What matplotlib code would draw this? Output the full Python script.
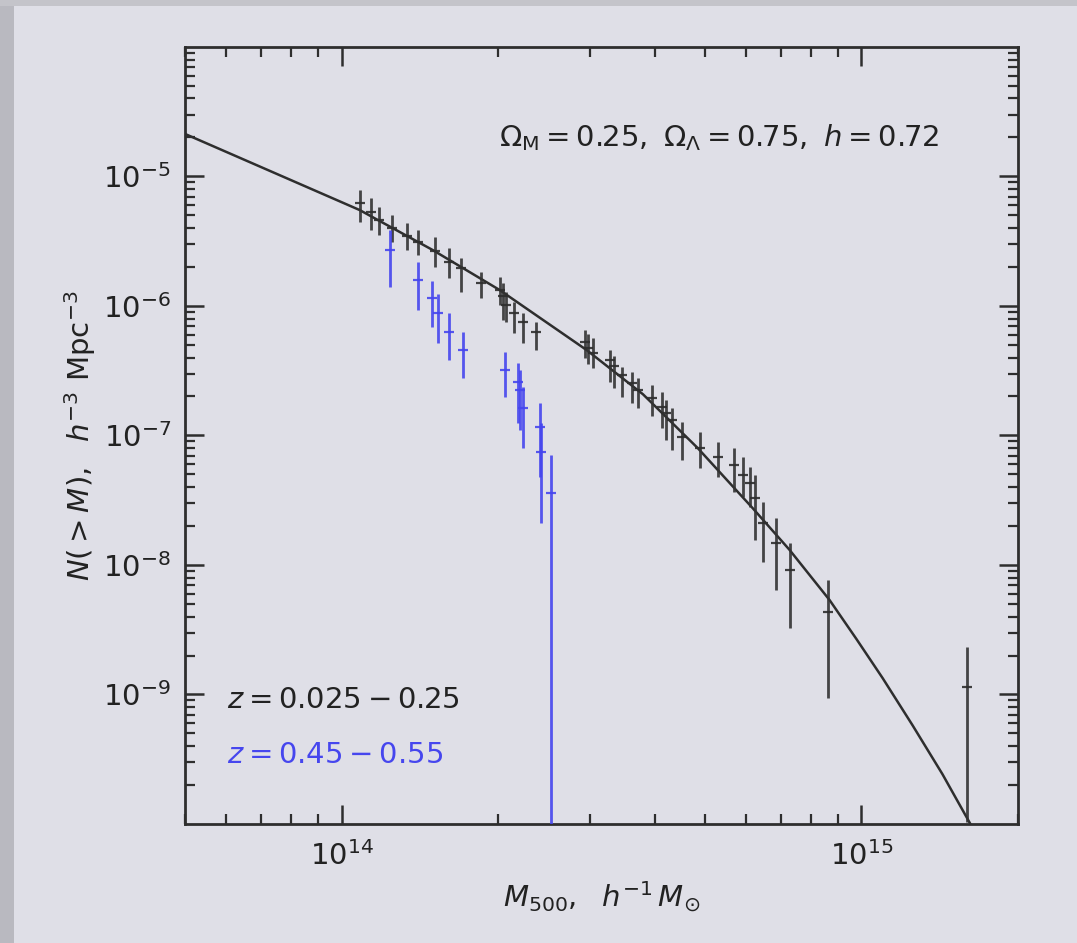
import numpy as np
import matplotlib
matplotlib.use("Agg")
import matplotlib.pyplot as plt
from matplotlib.patches import Rectangle

# model curve N(>M)
curve_m = [5.0e13, 1.083e14, 1.496e14, 2.013e14, 2.96e14, 3.80e14, 4.84e14, 6.17e14,
           7.27e14, 8.68e14, 9.78e14, 1.098e15, 1.253e15, 1.431e15, 1.62e15]
curve_n = [2.13e-5, 5.51e-6, 2.71e-6, 1.33e-6, 4.57e-7, 2.08e-7, 8.01e-8, 2.76e-8,
           1.31e-8, 5.37e-9, 2.68e-9, 1.34e-9, 5.81e-10, 2.43e-10, 1.0e-10]

# low-z sample, z = 0.025 - 0.25 (mass in 1e14)
low_m = [1.083, 1.137, 1.183, 1.253, 1.334, 1.400, 1.516, 1.606, 1.694, 1.858,
         2.013, 2.040, 2.076, 2.142, 2.229, 2.361, 2.933, 2.985, 3.039, 3.277,
         3.336, 3.456, 3.612, 3.709, 3.947, 4.143, 4.217, 4.312, 4.507, 4.881,
         5.309, 5.674, 5.905, 6.117, 6.227, 6.479, 6.863, 7.302, 8.639, 15.99]
low_n = [6.24e-6, 5.32e-6, 4.61e-6, 4.00e-6, 3.47e-6, 3.12e-6, 2.66e-6, 2.19e-6, 1.97e-6, 1.50e-6,
         1.33e-6, 1.19e-6, 1.02e-6, 8.83e-7, 7.52e-7, 6.30e-7, 5.27e-7, 4.74e-7, 4.34e-7, 3.83e-7,
         3.44e-7, 2.93e-7, 2.54e-7, 2.25e-7, 1.95e-7, 1.66e-7, 1.49e-7, 1.32e-7, 9.74e-8, 8.01e-8,
         6.82e-8, 5.92e-8, 4.95e-8, 4.30e-8, 3.29e-8, 2.11e-8, 1.48e-8, 9.15e-9, 4.34e-9, 1.14e-9]
low_hi = [7.87e-6, 6.82e-6, 5.81e-6, 5.04e-6, 4.37e-6, 3.86e-6, 3.41e-6, 2.80e-6, 2.35e-6, 1.83e-6,
          1.67e-6, 1.50e-6, 1.28e-6, 1.07e-6, 8.83e-7, 7.52e-7, 6.53e-7, 6.08e-7, 5.66e-7, 4.57e-7,
          4.11e-7, 3.38e-7, 3.09e-7, 2.78e-7, 2.45e-7, 2.17e-7, 1.88e-7, 1.63e-7, 1.27e-7, 1.06e-7,
          8.91e-8, 8.01e-8, 6.82e-8, 5.71e-8, 4.95e-8, 3.06e-8, 2.31e-8, 1.48e-8, 7.66e-9, 2.33e-9]
low_lo = [4.45e-6, 3.86e-6, 3.53e-6, 3.12e-6, 2.71e-6, 2.48e-6, 2.00e-6, 1.64e-6, 1.28e-6, 1.15e-6,
          1.02e-6, 7.80e-7, 7.52e-7, 6.19e-7, 5.18e-7, 4.57e-7, 3.97e-7, 3.57e-7, 3.32e-7, 2.59e-7,
          2.33e-7, 1.98e-7, 1.78e-7, 1.63e-7, 1.41e-7, 1.14e-7, 9.23e-8, 7.73e-8, 6.47e-8, 5.61e-8,
          4.78e-8, 3.66e-8, 3.35e-8, 2.80e-8, 1.56e-8, 1.05e-8, 6.41e-9, 3.26e-9, 9.40e-10, 1.04e-10]

# high-z sample, z = 0.45 - 0.55
high_m = [1.242, 1.400, 1.496, 1.536, 1.606, 1.709, 2.058, 2.181, 2.209, 2.229, 2.403, 2.424, 2.534]
high_n = [2.71e-6, 1.59e-6, 1.15e-6, 8.83e-7, 6.30e-7, 4.57e-7, 3.21e-7, 2.59e-7, 2.25e-7,
          1.63e-7, 1.16e-7, 7.46e-8, 3.60e-8]
high_hi = [3.86e-6, 2.19e-6, 1.56e-6, 1.24e-6, 8.83e-7, 6.30e-7, 4.41e-7, 3.63e-7, 3.21e-7,
           2.37e-7, 1.78e-7, 1.25e-7, 7.07e-8]
high_lo = [1.40e-6, 9.31e-7, 6.88e-7, 5.18e-7, 3.83e-7, 2.78e-7, 1.98e-7, 1.25e-7, 1.10e-7,
           8.01e-8, 4.78e-8, 2.11e-8, 1e-12]

bg = '#dfdfe7'
ink = '#2e2e2e'
blue = '#4646ee'

plt.rcParams['font.family'] = ['DejaVu Sans']
plt.rcParams['mathtext.fontset'] = 'dejavusans'

fig = plt.figure(figsize=(10.77, 9.43), dpi=100, facecolor=bg)
fig.patches.append(Rectangle((0, 0), 0.013, 1, transform=fig.transFigure,
                             facecolor='#b9b9c0', edgecolor='none', zorder=-1))
fig.patches.append(Rectangle((0, 0.994), 1, 0.006, transform=fig.transFigure,
                             facecolor='#c4c4ca', edgecolor='none', zorder=-1))
ax = fig.add_axes([0.1718, 0.1262, 0.7734, 0.8240])
ax.set_facecolor(bg)

ax.plot(curve_m, curve_n, color=ink, lw=1.8, zorder=3)

lm = np.array(low_m) * 1e14
ln = np.array(low_n)
ax.errorbar(lm, ln, yerr=[ln - np.array(low_lo), np.array(low_hi) - ln],
            fmt='_', color=ink, ecolor='#333333', elinewidth=2.0, markersize=7,
            mew=1.6, capsize=0, alpha=0.9, zorder=4)

hm = np.array(high_m) * 1e14
hn = np.array(high_n)
ax.errorbar(hm, hn, yerr=[hn - np.array(high_lo), np.array(high_hi) - hn],
            fmt='_', color=blue, ecolor=blue, elinewidth=2.0, markersize=7,
            mew=1.6, capsize=0, alpha=0.9, zorder=4)

ax.set_xscale('log')
ax.set_yscale('log')
ax.set_xlim(5e13, 2e15)
ax.set_ylim(1e-10, 1e-4)
ax.set_yticks([1e-9, 1e-8, 1e-7, 1e-6, 1e-5])
ax.set_yticklabels([r'$10^{-9}$', r'$10^{-8}$', r'$10^{-7}$', r'$10^{-6}$', r'$10^{-5}$'])
ax.set_xticks([1e14, 1e15])
ax.set_xticklabels([r'$10^{14}$', r'$10^{15}$'])

for s in ax.spines.values():
    s.set_linewidth(2.0)
    s.set_color(ink)
ax.tick_params(which='both', direction='in', top=True, right=True, color=ink,
               labelsize=21, labelcolor='#222222')
ax.tick_params(which='major', length=14, width=1.8, pad=10)
ax.tick_params(which='minor', length=7, width=1.6)
ax.tick_params(axis='x', which='major', pad=12)

ax.text(0.906, 0.883, r'$\Omega_{\rm M} = 0.25,\ \Omega_\Lambda = 0.75,\ h = 0.72$',
        transform=ax.transAxes, ha='right', va='center', fontsize=21, color='#222222')
ax.text(0.05, 0.16, r'$z = 0.025 - 0.25$', transform=ax.transAxes,
        ha='left', va='center', fontsize=21, color='#222222')
ax.text(0.05, 0.089, r'$z = 0.45 - 0.55$', transform=ax.transAxes,
        ha='left', va='center', fontsize=21, color=blue)

ax.set_xlabel(r'$M_{500},\ \ h^{-1}\,M_{\odot}$', fontsize=21, color='#222222', va='center')
ax.xaxis.set_label_coords(0.5, -0.094)
ax.set_ylabel(r'$N(>M),\ \ h^{-3}\ {\rm Mpc}^{-3}$', fontsize=21, color='#222222', va='center')
ax.yaxis.set_label_coords(-0.126, 0.5)

fig.savefig('out.png', dpi=100, facecolor=bg)
